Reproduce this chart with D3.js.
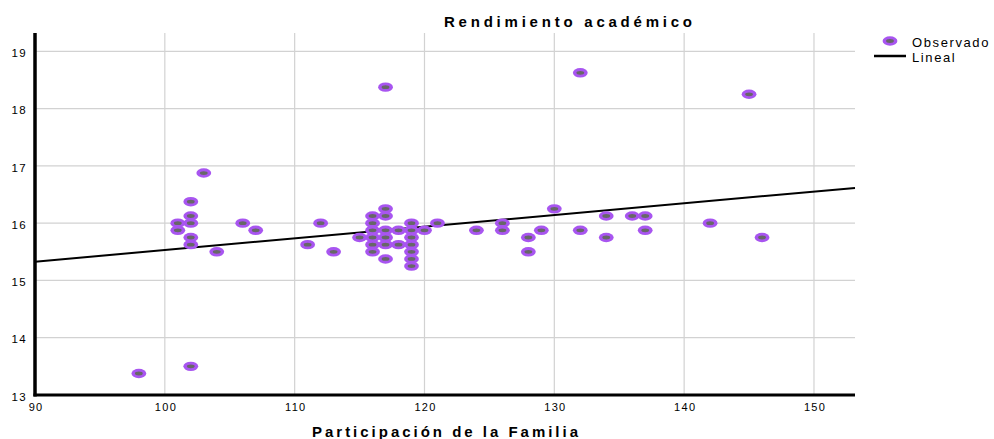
<!DOCTYPE html>
<html>
<head>
<meta charset="utf-8">
<script src="https://cdn.jsdelivr.net/npm/d3@7"></script>
<style>
  html, body { margin: 0; padding: 0; background: #fff; }
  svg { display: block; }
  text { font-family: "Liberation Sans", Arial, sans-serif; fill: #000; }
</style>
</head>
<body>
<svg id="chart" width="994" height="439"></svg>
<script>
// ---- Data ----
const title = "Rendimiento académico";
const xTitle = "Participación de la Familia";
const legendLabels = ["Observado", "Lineal"];

// Participación de la Familia (x) and Rendimiento académico (y)
const participacion = [
  98,
  101, 101,
  102, 102, 102, 102, 102, 102,
  103, 104, 106, 107, 111, 112, 113, 115,
  116, 116, 116, 116, 116, 116,
  117, 117, 117, 117, 117, 117, 117,
  118, 118,
  119, 119, 119, 119, 119, 119, 119,
  120, 121, 124,
  126, 126,
  128, 128,
  129, 130,
  132, 132,
  134, 134,
  136,
  137, 137,
  142, 145, 146
];
const rendimiento = [
  13.375,
  16, 15.875,
  13.5, 16.375, 16.125, 16, 15.75, 15.625,
  16.875, 15.5, 16, 15.875, 15.625, 16, 15.5, 15.75,
  16.125, 16, 15.875, 15.75, 15.625, 15.5,
  18.375, 16.25, 16.125, 15.875, 15.75, 15.625, 15.375,
  15.875, 15.625,
  16, 15.875, 15.75, 15.625, 15.5, 15.375, 15.25,
  15.875, 16, 15.875,
  16, 15.875,
  15.75, 15.5,
  15.875, 16.25,
  18.625, 15.875,
  16.125, 15.75,
  16.125,
  16.125, 15.875,
  16, 18.25, 15.75
];

// Linear fit
const fitIntercept = 13.491;
const fitSlope = 0.0204;

const xTicks = [90, 100, 110, 120, 130, 140, 150];
const yTicks = [13, 14, 15, 16, 17, 18, 19];
const xDomain = [90, 153.16];
const yDomain = [13, 19.32];

// ---- Layout ----
const plot = { left: 35, right: 855, top: 33, bottom: 395 };
const svg = d3.select("#chart");

const x = d3.scaleLinear().domain(xDomain).range([plot.left, plot.right]);
const y = d3.scaleLinear().domain(yDomain).range([plot.bottom, plot.top]);

const gridColor = "#d2d2d2";
const purple = "#a855f0";
const grayInner = "#676767";

// Gridlines
svg.append("g")
  .selectAll("line.vg")
  .data(xTicks)
  .join("line")
  .attr("x1", d => x(d)).attr("x2", d => x(d))
  .attr("y1", plot.top).attr("y2", plot.bottom)
  .attr("stroke", gridColor).attr("stroke-width", 1.2);

svg.append("g")
  .selectAll("line.hg")
  .data(yTicks)
  .join("line")
  .attr("x1", plot.left).attr("x2", plot.right)
  .attr("y1", d => y(d)).attr("y2", d => y(d))
  .attr("stroke", gridColor).attr("stroke-width", 1.2);

// Axes via d3 axis generators (labels only, no tick marks)
const xAxis = d3.axisBottom(x).tickValues(xTicks).tickSize(0).tickPadding(8).tickFormat(d3.format("d"));
const yAxis = d3.axisLeft(y).tickValues(yTicks).tickSize(0).tickPadding(8).tickFormat(d3.format("d"));

const gx = svg.append("g").attr("transform", `translate(0,${plot.bottom})`).call(xAxis);
gx.select(".domain").remove();
gx.selectAll("text")
  .attr("font-family", "Liberation Sans, Arial, sans-serif")
  .attr("font-size", 11)
  .attr("letter-spacing", "1.3px")
  .attr("fill", "#000")
  .attr("dx", "0.6px");

const gy = svg.append("g").attr("transform", `translate(${plot.left},0)`).call(yAxis);
gy.select(".domain").remove();
gy.selectAll("text")
  .attr("font-family", "Liberation Sans, Arial, sans-serif")
  .attr("font-size", 11.5)
  .attr("letter-spacing", "1.3px")
  .attr("fill", "#000")
  .attr("dy", "0.45em");

// Regression line
svg.append("line")
  .attr("x1", x(xDomain[0])).attr("y1", y(fitIntercept + fitSlope * xDomain[0]))
  .attr("x2", x(xDomain[1])).attr("y2", y(fitIntercept + fitSlope * xDomain[1]))
  .attr("stroke", "#000").attr("stroke-width", 2);

// Points
const pts = participacion.map((v, i) => ({ x: v, y: rendimiento[i] }));
const pg = svg.append("g");
const dot = pg.selectAll("g.pt").data(pts).join("g")
  .attr("transform", d => `translate(${x(d.x)},${y(d.y)})`);
dot.append("ellipse").attr("rx", 7.4).attr("ry", 4.7).attr("fill", purple);
dot.append("ellipse").attr("rx", 3.9).attr("ry", 1.9).attr("fill", grayInner);

// Axis lines (thick)
svg.append("line")
  .attr("x1", plot.left).attr("x2", plot.left)
  .attr("y1", plot.top).attr("y2", plot.bottom + 1.5)
  .attr("stroke", "#000").attr("stroke-width", 3.5);
svg.append("line")
  .attr("x1", plot.left - 1.5).attr("x2", plot.right)
  .attr("y1", plot.bottom).attr("y2", plot.bottom)
  .attr("stroke", "#000").attr("stroke-width", 3);

// Title
svg.append("text")
  .attr("x", 444).attr("y", 27)
  .attr("font-size", 15).attr("font-weight", "bold")
  .attr("textLength", 248).attr("lengthAdjust", "spacing")
  .text(title);

// X axis title
svg.append("text")
  .attr("x", 312).attr("y", 437)
  .attr("font-size", 15).attr("font-weight", "bold")
  .attr("textLength", 266).attr("lengthAdjust", "spacing")
  .text(xTitle);

// Legend
const lg = svg.append("g");
const lm = lg.append("g").attr("transform", "translate(890,41)");
lm.append("ellipse").attr("rx", 7.4).attr("ry", 4.7).attr("fill", purple);
lm.append("ellipse").attr("rx", 3.9).attr("ry", 1.9).attr("fill", grayInner);
lg.append("line").attr("x1", 874).attr("x2", 906).attr("y1", 56).attr("y2", 56)
  .attr("stroke", "#000").attr("stroke-width", 2.5);
lg.append("text").attr("x", 912).attr("y", 46.5).attr("font-size", 13)
  .attr("letter-spacing", "1.6px").text(legendLabels[0]);
lg.append("text").attr("x", 912).attr("y", 62).attr("font-size", 13)
  .attr("letter-spacing", "1.6px").text(legendLabels[1]);
</script>
</body>
</html>
